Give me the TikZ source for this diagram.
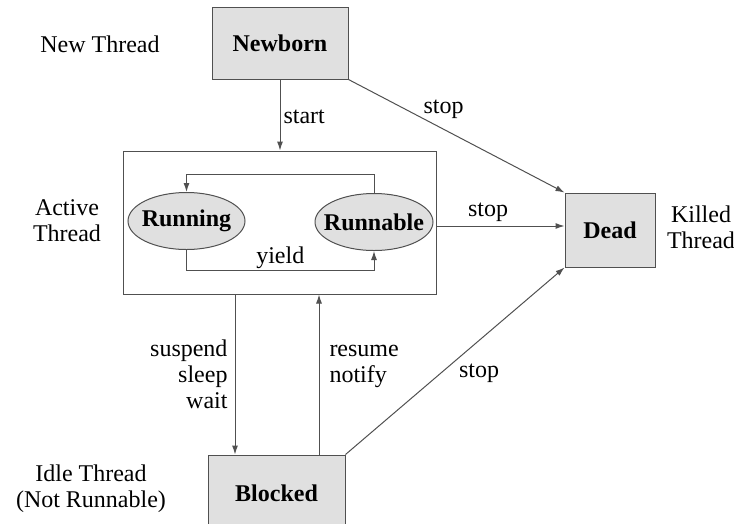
\documentclass[tikz,border=0pt]{standalone}
\usepackage{fontspec}
\setmainfont{Liberation Serif}
\usetikzlibrary{arrows.meta,shapes.geometric}
\definecolor{edge}{HTML}{505050}
\definecolor{statefill}{HTML}{E0E0E0}
\newcommand{\ovaltext}[1]{\makebox[0pt]{#1}}
\begin{document}
\begin{tikzpicture}[x=1pt,y=-1pt,
  every node/.style={font=\fontsize{24}{26}\selectfont, inner sep=0pt},
  statebox/.style={draw=edge, line width=1pt, fill=statefill, minimum width=#1, font=\fontsize{24}{26}\selectfont\bfseries},
  stateoval/.style={draw=edge, line width=1pt, fill=statefill, ellipse, minimum width=117, minimum height=57, font=\fontsize{24}{26}\selectfont\bfseries},
  frame/.style={draw=edge, line width=1pt},
  arrow/.style={draw=edge, line width=1pt, -{Latex[length=9pt,width=6pt]}},
  lbl/.style={align=center}
]
\useasboundingbox (0,0) rectangle (734,523);

% states
\node[statebox=136, minimum height=72] (newborn) at (280,43) {Newborn};
\node[frame, minimum width=313, minimum height=143] (active) at (280,222.5) {};
\node[stateoval] (running) at (186.5,221) {\ovaltext{Running}};
\node[stateoval, minimum width=118] (runnable) at (374,222) {\ovaltext{Runnable}};
\node[statebox=90, minimum height=74] (dead) at (610,230) {Dead};
\node[statebox=137, minimum height=76] (blocked) at (276.5,493) {Blocked};

% side captions
\node[lbl] (cnew) at (100,44) {New Thread};
\node[lbl] (cactive) at (67,221) {Active\\Thread};
\node[lbl] (ckilled) at (701,227) {Killed\\Thread};
\node[lbl] (cidle) at (91,489) {Idle Thread\\(Not Runnable)};

% transitions
\draw[arrow] (newborn.south) -- (active.north)
  node[pos=0.52, anchor=west, xshift=3pt] {start};
\draw[arrow] (runnable.north) -- ++(0,-19) -| (running.north);
\draw[arrow] (running.south) -- ++(0,20) -| (runnable.south)
  node[pos=0.25, above=1pt] {yield};
\draw[arrow] (newborn.south east) -- (dead.north west)
  node[pos=0.44, yshift=20pt] {stop};
\coordinate (stopy) at (0,226);
\draw[arrow] (active.east |- stopy) -- (dead.west |- stopy)
  node[pos=0.4, yshift=14pt] {stop};
\draw[arrow] (blocked.north east) -- (dead.south west)
  node[pos=0.61, yshift=-33pt] {stop};

\coordinate (down) at (235,0);
\coordinate (up) at (319,0);
\draw[arrow] (active.south -| down) -- (blocked.north -| down)
  node[midway, left=7pt, align=right] {suspend\\sleep\\wait};
\draw[arrow] (blocked.north -| up) -- (active.south -| up)
  node[pos=0.58, anchor=west, xshift=10pt, yshift=-5pt, align=left] {resume\\notify};
\end{tikzpicture}
\end{document}
